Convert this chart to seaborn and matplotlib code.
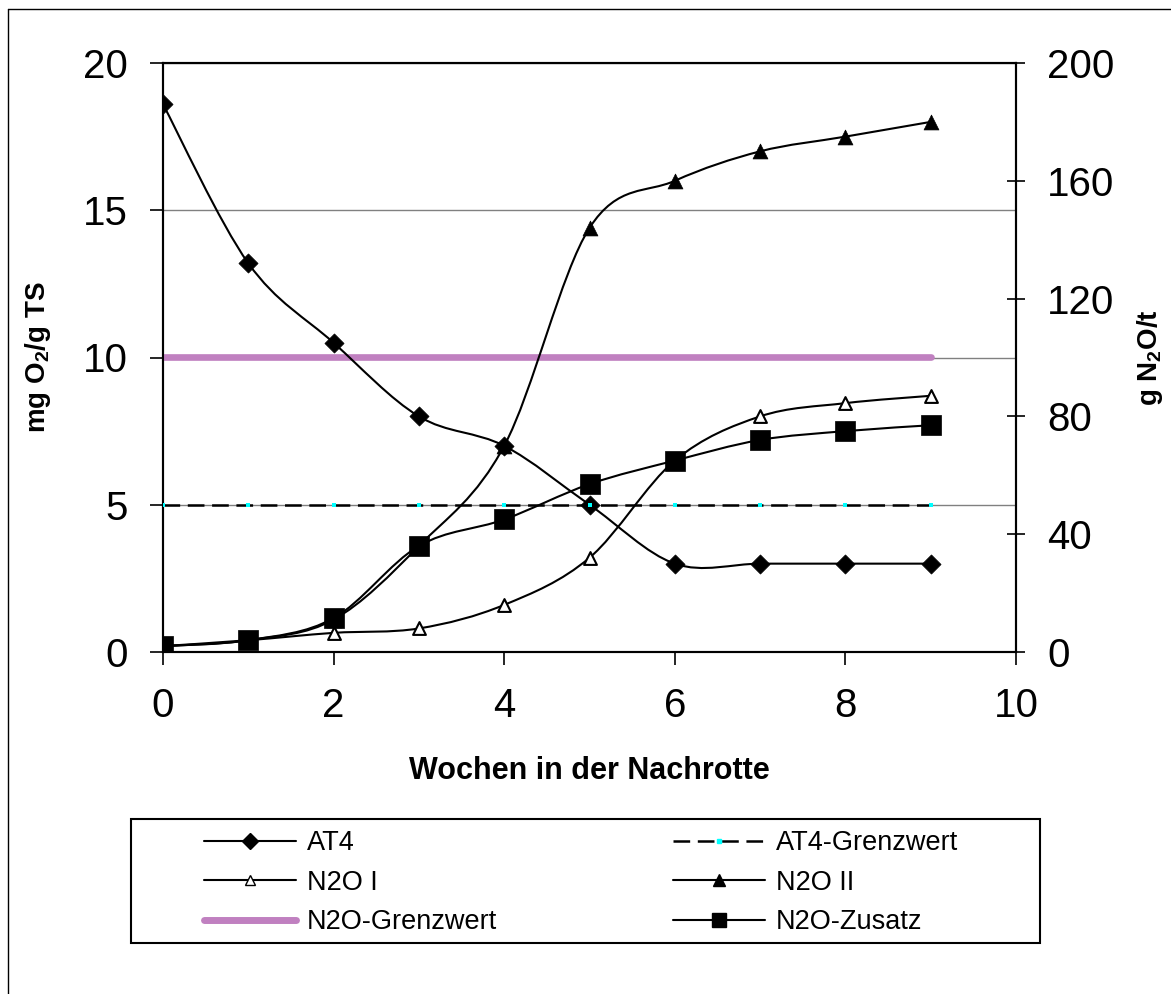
import numpy as np
import matplotlib
matplotlib.use("Agg")
import matplotlib.pyplot as plt
import seaborn as sns
from matplotlib.path import Path
from matplotlib.patches import PathPatch, Rectangle
from matplotlib.lines import Line2D

# data
weeks = [0, 1, 2, 3, 4, 5, 6, 7, 8, 9]
at4 = [18.6, 13.2, 10.5, 8.0, 7.0, 5.0, 3.0, 3.0, 3.0, 3.0]          # mg O2/g TS
at4_limit = [5, 5, 5, 5, 5, 5, 5, 5, 5, 5]                          # mg O2/g TS
n2o_1 = [2, 4, 6.5, 8, 16, 32, 65, 80, 84.5, 87]                    # g N2O/t
n2o_2 = [2, 4, 11, 36, 70, 144, 160, 170, 175, 180]                 # g N2O/t
n2o_limit = [100, 100, 100, 100, 100, 100, 100, 100, 100, 100]      # g N2O/t
n2o_add = [2, 4, 11.5, 36, 45, 57, 65, 72, 75, 77]                  # g N2O/t

left_ticks = [0, 5, 10, 15, 20]
right_ticks = [0, 40, 80, 120, 160, 200]
x_ticks = [0, 2, 4, 6, 8, 10]

sns.set_style("white")
plt.rcParams["font.family"] = ["Liberation Sans", "DejaVu Sans"]
plt.rcParams["mathtext.fontset"] = "custom"
plt.rcParams["mathtext.rm"] = "Liberation Sans"
plt.rcParams["mathtext.bf"] = "Liberation Sans:bold"
plt.rcParams["lines.scale_dashes"] = False
for key in ["text.color", "axes.labelcolor", "xtick.color", "ytick.color"]:
    plt.rcParams[key] = "black"

W, H = 1171, 994
fig = plt.figure(figsize=(W / 100, H / 100), dpi=100)
ax = fig.add_axes([163 / W, 1 - 652 / H, 853 / W, 589 / H])
ax2 = ax.twinx()


def smooth_path(xs, ys):
    # excel-style smoothed line: cubic bezier through the points
    pts = np.column_stack([xs, ys]).astype(float)
    n = len(pts)
    verts, codes = [pts[0]], [Path.MOVETO]
    for i in range(n - 1):
        p0 = pts[i - 1] if i > 0 else pts[i]
        p1, p2 = pts[i], pts[i + 1]
        p3 = pts[i + 2] if i + 2 < n else pts[i + 1]
        verts += [p1 + (p2 - p0) / 6, p2 - (p3 - p1) / 6, p2]
        codes += [Path.CURVE4] * 3
    return Path(verts, codes)


lila = "#C080C0"
cyan = "#00FFFF"
dash = (0, (12, 5.5))

# everything is drawn on ax2 so the layering is controlled in one place;
# left-axis series use the left axis' data transform
sns.lineplot(x=weeks, y=n2o_limit, ax=ax2, color=lila, lw=4.8, zorder=2)
sns.lineplot(x=weeks, y=at4_limit, ax=ax2, color="black", lw=1.8,
             linestyle=dash, zorder=3, transform=ax.transData)
sns.scatterplot(x=weeks, y=at4_limit, ax=ax2, marker="s", s=9, color=cyan,
                linewidth=0, zorder=6, transform=ax.transData)

for vals, trans in [(at4, ax.transData), (n2o_1, ax2.transData),
                    (n2o_2, ax2.transData), (n2o_add, ax2.transData)]:
    ax2.add_patch(PathPatch(smooth_path(weeks, vals), fill=False,
                            edgecolor="black", lw=1.5, transform=trans,
                            zorder=4))

sns.scatterplot(x=weeks, y=at4, ax=ax2, marker="D", s=95, color="black",
                edgecolor="black", linewidth=0.5, zorder=5,
                transform=ax.transData)
sns.scatterplot(x=weeks, y=n2o_1, ax=ax2, marker="^", s=85, color="white",
                edgecolor="black", linewidth=1.5, zorder=5)
sns.scatterplot(x=weeks, y=n2o_2, ax=ax2, marker="^", s=115, color="black",
                edgecolor="black", linewidth=0.5, zorder=5)
sns.scatterplot(x=weeks, y=n2o_add, ax=ax2, marker="s", s=200, color="black",
                edgecolor="black", linewidth=0.5, zorder=5)

ax.set_xlim(0, 10)
ax.set_ylim(0, 20)
ax2.set_ylim(0, 200)
ax.set_xticks(x_ticks)
ax.set_yticks(left_ticks)
ax2.set_yticks(right_ticks)

ax.yaxis.grid(True, color="#808080", lw=1)
ax.xaxis.grid(False)
ax.set_axisbelow(True)

for a in (ax, ax2):
    for sp in a.spines.values():
        sp.set_visible(True)
        sp.set_color("black")
        sp.set_linewidth(1.5)

ax.tick_params(axis="both", labelsize=29, direction="out", length=9.5,
               width=1.2, color="black", pad=16)
ax.tick_params(axis="y", left=True, right=False)
ax.tick_params(axis="x", bottom=True)
ax2.tick_params(axis="y", labelsize=29, direction="inout", length=13,
                width=1.2, color="black", pad=16, right=True)

ax.set_xlabel("Wochen in der Nachrotte", fontsize=22, fontweight="bold")
ax.xaxis.set_label_coords(0.5, -0.177)
ax.set_ylabel(r"mg O$_\mathbf{2}$/g TS", fontsize=20, fontweight="bold")
ax.yaxis.set_label_coords(-0.129, 0.5)
ax2.set_ylabel(r"g N$_\mathbf{2}$O/t", fontsize=20, fontweight="bold")
ax2.yaxis.set_label_coords(1.140, 0.5)

# legend
handles = [
    Line2D([], [], color="black", lw=1.5, marker="D", ms=8, mfc="black", mec="black"),
    Line2D([], [], color="black", lw=1.5, marker="^", ms=7, mfc="white", mec="black"),
    Line2D([], [], color=lila, lw=5),
    Line2D([], [], color="black", lw=1.8, linestyle=dash,
           marker="s", ms=3, mfc=cyan, mec=cyan),
    Line2D([], [], color="black", lw=1.5, marker="^", ms=8, mfc="black", mec="black"),
    Line2D([], [], color="black", lw=1.5, marker="s", ms=10, mfc="black", mec="black"),
]
labels = ["AT4", "N2O I", "N2O-Grenzwert", "AT4-Grenzwert", "N2O II", "N2O-Zusatz"]
fig.legend(handles, labels, loc="upper left", ncol=2, frameon=False,
           bbox_to_anchor=(204 / W, 1 - 830 / H), borderpad=0, borderaxespad=0,
           fontsize=19.5, handlelength=3.4, handletextpad=0.4,
           columnspacing=6.5, labelspacing=0.5)
fig.patches.append(Rectangle((131 / W, 1 - 943 / H), 909 / W, 124 / H,
                             transform=fig.transFigure, fill=False,
                             edgecolor="black", lw=1.5))

# outer frame of the chart object
fig.lines.append(Line2D([8 / W, 8 / W], [0, 1 - 9 / H], transform=fig.transFigure,
                        color="black", lw=1))
fig.lines.append(Line2D([8 / W, 1], [1 - 9 / H, 1 - 9 / H], transform=fig.transFigure,
                        color="black", lw=1))

fig.savefig("out.png", dpi=100, facecolor="white")
